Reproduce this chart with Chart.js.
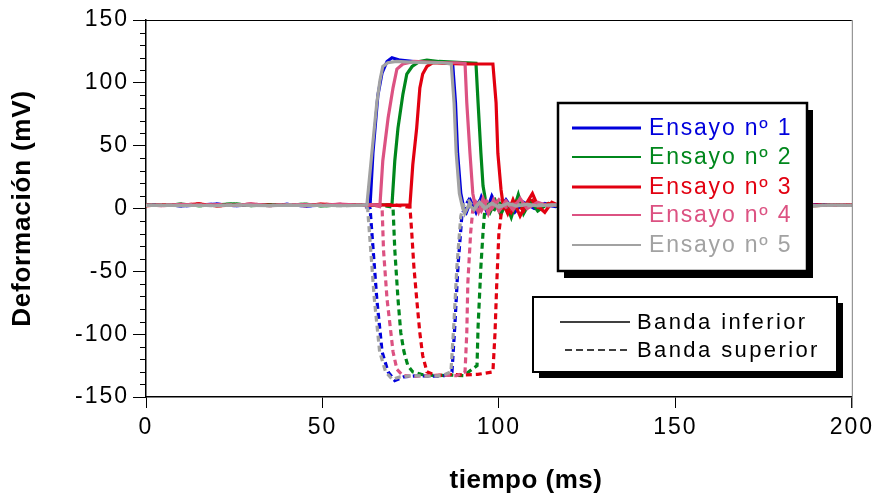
<!DOCTYPE html>
<html>
<head>
<meta charset="utf-8">
<script src="https://cdn.jsdelivr.net/npm/chart.js@4.4.1/dist/chart.umd.min.js"></script>
<style>
html, body { margin: 0; padding: 0; background: #fff; }
</style>
</head>
<body>
<canvas id="chart" width="877" height="500"></canvas>
<script>
// baseline sample times shared by every trace
const headT = [0, 5, 10, 15, 20, 25, 30, 35, 40, 45, 50, 55, 60];
const tailT = [135, 140, 145, 150, 155, 160, 165, 170, 175, 180, 185, 190, 195, 200];

// baseline readings (mV) before / after the pulse, per trial
const head1 = [2.5, 3.2, 2.1, 2.8, 3.5, 2.2, 2.9, 2.4, 3.3, 2.0, 2.7, 3.1, 2.5];
const head2 = [3.0, 2.4, 3.4, 2.2, 2.9, 3.6, 2.3, 3.0, 2.6, 3.4, 2.1, 2.8, 3.0];
const head3 = [2.2, 3.1, 2.7, 3.6, 2.0, 2.8, 3.3, 2.5, 3.0, 2.3, 3.5, 2.6, 2.9];
const head4 = [2.8, 2.3, 3.3, 2.6, 3.1, 2.4, 3.7, 2.2, 2.9, 3.2, 2.5, 3.4, 2.7];
const head5 = [2.4, 2.7, 2.3, 2.6, 2.2, 2.8, 2.5, 2.3, 2.7, 2.4, 2.6, 2.2, 2.5];
const tail1 = [2.8, 2.2, 3.1, 2.5, 3.4, 2.1, 2.6, 3.0, 2.3, 2.9, 2.4, 3.2, 2.6, 2.5];
const tail2 = [2.4, 3.3, 2.6, 2.1, 3.0, 2.7, 3.4, 2.2, 2.8, 3.1, 2.5, 2.3, 3.0, 2.7];
const tail3 = [3.2, 2.5, 2.9, 3.5, 2.2, 3.0, 2.4, 3.3, 2.6, 2.1, 3.2, 2.8, 2.4, 3.0];
const tail4 = [2.6, 3.0, 2.3, 2.9, 2.5, 3.3, 2.7, 2.4, 3.1, 2.6, 2.9, 2.3, 2.8, 2.6];
const tail5 = [2.5, 2.7, 2.4, 2.6, 2.3, 2.7, 2.5, 2.6, 2.4, 2.7, 2.5, 2.4, 2.6, 2.5];

// pulse segments: banda inferior (solid)
const inf1T = [62, 63.5, 64.3, 65.7, 66.9, 68.3, 69.7, 72, 76, 80, 84, 86.9, 87.7, 88.3, 89.2, 90.0, 90.8, 92, 93.5, 95, 96.5, 98, 100, 102, 104.5, 107, 110, 113, 116, 120, 125, 130];
const inf1V = [2.6, 3, 44, 90, 108, 117, 120, 118, 117, 116, 116.5, 115, 84, 44, 12, 1, -3, 6, -3, 9, -2, 10, -1, 7, -3, 5, 0, 4, 1.5, 3.5, 2, 3];
const inf2T = [62, 66, 69.7, 70.5, 71.4, 72.8, 73.9, 75.4, 77.5, 79.6, 83, 87, 91, 93.5, 94.1, 94.9, 95.5, 96.3, 97.5, 99, 100.5, 102, 103.5, 105.5, 107, 109, 111, 114, 117, 121, 125, 130];
const inf2V = [2.4, 3, 3, 38, 64, 91, 107, 113, 117, 118, 117, 116.5, 116, 115.5, 84, 44, 18, 5, -3, 6, -5, 4, -7, 11, -4, 6, -2, 4, 1.5, 3, 2.5, 3];
const inf3T = [62, 66, 70, 74.8, 75.6, 76.7, 77.6, 78.4, 79.6, 81.3, 85, 90, 95, 98.3, 99.2, 99.7, 100.6, 101.1, 102.5, 104, 106, 108, 109.5, 111, 113, 115, 118, 121, 125, 130];
const inf3V = [2.5, 3, 2.5, 3, 35, 64, 96, 107, 113, 116, 115.5, 115, 115, 115, 84, 44, 15, 5, -4, 7, -6, 5, 12, 2, -3, 5, 1, 4, 2.5, 3];
const inf4T = [62, 64, 66.3, 67.1, 68.6, 70.0, 71.1, 72.8, 76, 80, 84, 88, 90.4, 90.9, 91.8, 92.6, 93.2, 94.2, 95.5, 97, 98.5, 100, 102, 104, 106, 108, 111, 114, 118, 122, 126, 130];
const inf4V = [2.5, 3, 3, 38, 72, 96, 111, 115, 117, 116.5, 116, 116, 115.5, 84, 44, 12, 3, -3, 8, -4, 7, -2, 6, -1, 8, 0, 5, 2, 4, 2.5, 3, 2.5];
const inf5T = [61, 62.6, 64.0, 65.4, 66.3, 67.1, 68.5, 71, 75, 80, 84, 86.5, 87.3, 87.9, 88.8, 89.6, 90.3, 91.5, 93, 94.5, 96, 98, 100, 102.5, 105, 108, 111, 115, 120, 125, 130];
const inf5V = [2.5, 3, 44, 84, 102, 113, 116, 117, 116.5, 116, 116, 115, 84, 44, 12, 2, -4, 3, -1, 5, 0, 4, 1, 4, 2, 3.5, 2, 3, 2.5, 3, 2.5];

// pulse segments: banda superior (dashed)
const sup1T = [62, 63.5, 65.4, 66.9, 68.6, 70.5, 73, 77, 81, 84.5, 86.7, 87.5, 88.4, 89.5, 90.4, 91.5, 93, 94.5, 96, 98, 100, 103, 106, 110, 115, 120, 125, 130];
const sup1V = [2.5, 0, -72, -114, -130, -137, -134, -133, -133.5, -133, -130, -94, -46, -6, 2, 7, 0, 6, 1, 5, 2, 4, 2.5, 3.5, 2, 3, 2.5, 3];
const sup2T = [62, 66, 70.0, 70.5, 71.4, 72.2, 73.1, 74.2, 75.6, 78, 82, 86, 90, 93.8, 94.1, 94.9, 95.5, 96.0, 97, 98.5, 100, 102, 104, 106, 109, 112, 116, 120, 125, 130];
const sup2V = [2.6, 2.8, 1, -33, -72, -99, -114, -125, -130, -132, -133, -132.5, -133, -125, -94, -46, -19, -1, 6, -2, 5, 0, 6, 1, 5, 2, 3.5, 2.5, 3, 2.5];
const sup3T = [62, 66, 70, 74.8, 75.3, 75.9, 76.7, 77.6, 78.4, 79.6, 82.4, 86, 90, 94, 98.3, 98.9, 99.4, 100.0, 100.8, 102, 103.5, 105, 107, 109, 111, 114, 117, 121, 125, 130];
const sup3V = [2.5, 2.8, 3, 1, -19, -46, -72, -99, -117, -130, -133, -132, -132.5, -132, -130, -99, -59, -19, -1, 6, -3, 5, -2, 8, 1, 4, 2, 3.5, 2.5, 3];
const sup4T = [62, 64, 66.9, 67.3, 68.3, 69.4, 70.0, 71.1, 72.8, 76, 80, 84, 88, 90.4, 90.9, 91.2, 92.0, 92.6, 93.5, 95, 96.5, 98, 100, 102, 105, 108, 112, 116, 120, 125, 130];
const sup4V = [2.5, 3, 1, -33, -72, -99, -114, -128, -133, -133.5, -133, -132.5, -133, -130, -99, -59, -19, -1, 5, -2, 6, 0, 7, 1, 4, 2, 3.5, 2.5, 3, 2.5, 3];
const sup5T = [61, 62.8, 64.7, 66.2, 67.9, 69.8, 72, 76, 80, 84, 86.4, 87.2, 88.1, 89.2, 90.1, 91.5, 93, 94.5, 96, 98, 101, 104, 108, 112, 116, 120, 125, 130];
const sup5V = [2.5, 0, -72, -114, -130, -136, -134, -133, -133.5, -133, -130, -94, -46, -6, 3, 6, 0, 5, 1, 4, 2, 3.5, 2, 3, 2.5, 3, 2.5, 3];

const trialLabels = ['Ensayo nº 1', 'Ensayo nº 2', 'Ensayo nº 3', 'Ensayo nº 4', 'Ensayo nº 5'];
const bandLabels = ['Banda inferior', 'Banda superior'];
const trialColors = ['#0000dc', '#00871c', '#e20010', '#dc5282', '#a2a2a2'];
const xTicks = [0, 50, 100, 150, 200];
const yTicks = [-150, -100, -50, 0, 50, 100, 150];

const heads = [head1, head2, head3, head4, head5];
const tails = [tail1, tail2, tail3, tail4, tail5];
const infT = [inf1T, inf2T, inf3T, inf4T, inf5T];
const infV = [inf1V, inf2V, inf3V, inf4V, inf5V];
const supT = [sup1T, sup2T, sup3T, sup4T, sup5T];
const supV = [sup1V, sup2V, sup3V, sup4V, sup5V];

function trace(head, pT, pV, tail) {
  const pts = [];
  headT.forEach((t, i) => pts.push({ x: t, y: head[i] }));
  pT.forEach((t, i) => pts.push({ x: t, y: pV[i] }));
  tailT.forEach((t, i) => pts.push({ x: t, y: tail[i] }));
  return pts;
}

const datasets = [];
for (let i = 0; i < 5; i++) {
  datasets.push({
    label: trialLabels[i] + ' inf',
    data: trace(heads[i], infT[i], infV[i], tails[i]),
    borderColor: trialColors[i],
    borderWidth: 3.2,
    order: 5 - i
  });
  datasets.push({
    label: trialLabels[i] + ' sup',
    data: trace(heads[i], supT[i], supV[i], tails[i]),
    borderColor: trialColors[i],
    borderWidth: 3.2,
    borderDash: [6, 4],
    order: 5 - i
  });
}

function spacedText(ctx, txt, x, y, spacing) {
  ctx.letterSpacing = spacing + 'px';
  ctx.fillText(txt, x, y);
  ctx.letterSpacing = '0px';
}

const decor = {
  id: 'decor',
  beforeDraw(chart) {
    chart.ctx.letterSpacing = '2px';
  },
  beforeDatasetsDraw(chart) {
    chart.ctx.letterSpacing = '0px';
  },
  afterDraw(chart) {
    const ctx = chart.ctx;
    const a = chart.chartArea;
    const ys = chart.scales.y;
    ctx.save();
    // minor ticks on the y axis
    ctx.strokeStyle = '#000';
    ctx.lineWidth = 1;
    for (let v = -140; v < 150; v += 10) {
      if (v % 50 === 0) continue;
      const py = Math.round(ys.getPixelForValue(v)) + 0.5;
      ctx.beginPath();
      ctx.moveTo(a.left - 6, py);
      ctx.lineTo(a.left, py);
      ctx.stroke();
    }
    // top / right frame
    ctx.beginPath();
    ctx.moveTo(a.left, a.top + 0.5);
    ctx.lineTo(a.right, a.top + 0.5);
    ctx.stroke();
    ctx.strokeStyle = '#808080';
    ctx.beginPath();
    ctx.moveTo(a.right + 0.5, a.top);
    ctx.lineTo(a.right + 0.5, a.bottom + 11);
    ctx.stroke();

    // axis titles
    ctx.fillStyle = '#000';
    ctx.font = 'bold 26px "Liberation Sans", Arial, sans-serif';
    ctx.textAlign = 'center';
    ctx.textBaseline = 'middle';
    spacedText(ctx, 'tiempo (ms)', 526, 481, 0.5);
    ctx.save();
    ctx.translate(23, (a.top + a.bottom) / 2);
    ctx.rotate(-Math.PI / 2);
    spacedText(ctx, 'Deformación (mV)', 0, 0, 0.8);
    ctx.restore();

    // legend of trials
    ctx.fillStyle = '#000';
    ctx.fillRect(564, 110, 249, 168);
    ctx.fillStyle = '#fff';
    ctx.fillRect(558, 103, 249, 168);
    ctx.lineWidth = 2.5;
    ctx.strokeStyle = '#000';
    ctx.strokeRect(558, 103, 249, 168);
    const rowY = [128, 157, 187, 215, 245];
    const lw = [3, 2, 3, 2, 2];
    ctx.font = '23px "Liberation Sans", Arial, sans-serif';
    ctx.textAlign = 'left';
    for (let i = 0; i < 5; i++) {
      ctx.strokeStyle = trialColors[i];
      ctx.lineWidth = lw[i];
      ctx.beginPath();
      ctx.moveTo(572, rowY[i]);
      ctx.lineTo(641, rowY[i]);
      ctx.stroke();
      ctx.fillStyle = trialColors[i];
      spacedText(ctx, trialLabels[i], 649, rowY[i] + 1, 1.8);
    }

    // legend of bands
    ctx.fillStyle = '#000';
    ctx.fillRect(539, 303, 304, 75);
    ctx.fillStyle = '#fff';
    ctx.fillRect(533, 297, 304, 75);
    ctx.lineWidth = 2;
    ctx.strokeStyle = '#000';
    ctx.strokeRect(533, 297, 304, 75);
    ctx.lineWidth = 1.5;
    ctx.beginPath();
    ctx.moveTo(560, 322);
    ctx.lineTo(630, 322);
    ctx.stroke();
    ctx.setLineDash([7, 4]);
    ctx.beginPath();
    ctx.moveTo(565, 350);
    ctx.lineTo(630, 350);
    ctx.stroke();
    ctx.setLineDash([]);
    ctx.fillStyle = '#000';
    ctx.font = '22px "Liberation Sans", Arial, sans-serif';
    spacedText(ctx, bandLabels[0], 637, 323, 2.4);
    spacedText(ctx, bandLabels[1], 637, 351, 2.4);
    ctx.restore();
  }
};

new Chart(document.getElementById('chart').getContext('2d'), {
  type: 'scatter',
  data: { datasets: datasets },
  options: {
    responsive: false,
    animation: false,
    devicePixelRatio: 1,
    showLine: true,
    elements: {
      point: { radius: 0 },
      line: { tension: 0, borderCapStyle: 'butt', borderJoinStyle: 'miter' }
    },
    layout: { padding: { left: 0, right: 25, top: 20, bottom: 0 } },
    plugins: { legend: { display: false }, tooltip: { enabled: false } },
    scales: {
      x: {
        type: 'linear', min: 0, max: 200,
        afterFit(s) { s.height = 103; },
        afterBuildTicks(s) { s.ticks = xTicks.map(v => ({ value: v })); },
        ticks: { color: '#000', padding: 6, maxRotation: 0,
          font: { family: '"Liberation Sans", Arial, sans-serif', size: 23 } },
        grid: { drawOnChartArea: false, tickLength: 11, color: '#000', tickWidth: 1 },
        border: { color: '#000', width: 1.5 }
      },
      y: {
        type: 'linear', min: -150, max: 150,
        afterFit(s) { s.width = 146; },
        afterBuildTicks(s) { s.ticks = yTicks.map(v => ({ value: v })); },
        ticks: { color: '#000', padding: 4,
          font: { family: '"Liberation Sans", Arial, sans-serif', size: 23 } },
        grid: { drawOnChartArea: false, tickLength: 13, color: '#000', tickWidth: 1 },
        border: { color: '#000', width: 1.5 }
      }
    }
  },
  plugins: [decor]
});
</script>
</body>
</html>
